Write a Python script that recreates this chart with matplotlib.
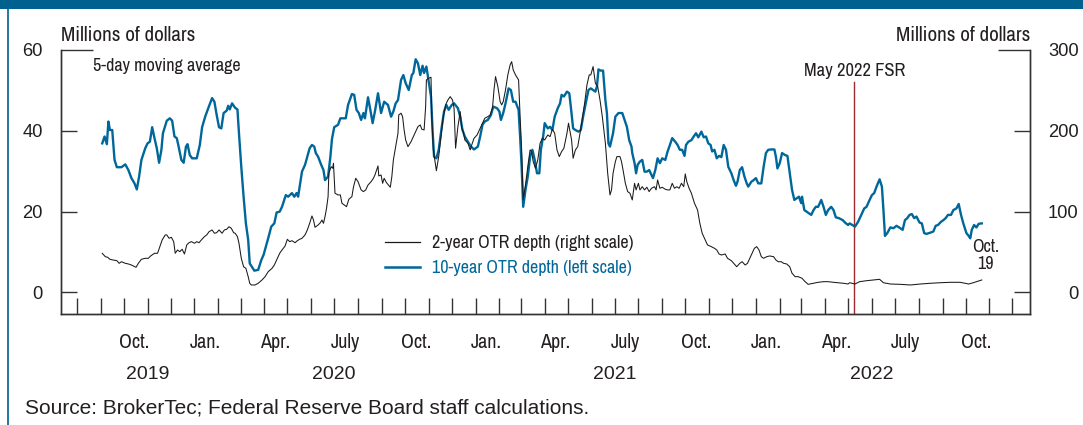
import matplotlib
matplotlib.use("Agg")
import matplotlib.pyplot as plt
import matplotlib.dates as mdates
from matplotlib.lines import Line2D
from matplotlib.patches import Rectangle
import pandas as pd
import numpy as np

# ---------------- data ----------------
start_date = "2019-09-01"          # day offsets below are counted from this date
fsr_date = "2022-05-09"            # May 2022 Financial Stability Report

blue_days = [2, 5, 8, 10, 12, 15, 18, 21, 27, 32, 36, 40, 44, 47, 50, 53, 58, 61, 64, 67, 70, 73, 76, 79, 81,
             86, 90, 93, 96, 99, 101, 105, 108, 111, 113, 116, 119, 125, 129, 132, 136, 140, 144, 145, 148, 151,
             154, 157, 160, 164, 166, 168, 171, 175, 178, 180, 183, 186, 189, 192, 194, 200, 205, 209, 212, 215,
             218, 222, 226, 229, 233, 236, 241, 244, 249, 252, 255, 257, 259, 262, 266, 269, 272, 275, 278, 280,
             283, 287, 290, 292, 296, 299, 301, 304, 309, 312, 316, 319, 322, 327, 330, 333, 336, 339, 342, 344,
             348, 351, 354, 357, 361, 365, 369, 374, 378, 381, 384, 387, 391, 394, 397, 401, 405, 407, 410, 413,
             416, 419, 421, 424, 426, 430, 432, 434, 437, 440, 444, 447, 450, 453, 457, 460, 465, 468, 471, 474,
             478, 482, 486, 491, 494, 497, 500, 504, 508, 511, 516, 519, 521, 524, 527, 531, 534, 537, 540, 544,
             546, 548, 550, 553, 556, 559, 562, 565, 568, 571, 573, 576, 578, 582, 585, 588, 591, 595, 598, 600,
             603, 607, 610, 612, 615, 618, 622, 625, 628, 631, 635, 638, 641, 644, 646, 648, 651, 654, 657, 659,
             661, 663, 667, 670, 674, 679, 682, 685, 688, 691, 692, 695, 697, 699, 702, 705, 708, 711, 714, 717,
             719, 722, 725, 728, 731, 735, 738, 741, 744, 748, 751, 754, 757, 760, 762, 765, 769, 772, 775, 778,
             782, 785, 788, 791, 794, 796, 799, 802, 805, 808, 811, 814, 817, 821, 824, 827, 829, 832, 835, 838,
             841, 843, 847, 850, 853, 856, 860, 863, 866, 869, 873, 877, 879, 881, 884, 887, 891, 894, 897, 900,
             903, 906, 909, 912, 913, 916, 919, 922, 925, 928, 931, 934, 938, 941, 944, 947, 951, 954, 957, 961,
             966, 969, 973, 975, 982, 986, 991, 994, 997, 1001, 1004, 1007, 1010, 1014, 1017, 1019, 1021, 1024,
             1028, 1032, 1036, 1041, 1044, 1047, 1050, 1053, 1056, 1059, 1062, 1066, 1069, 1072, 1075, 1080,
             1084, 1087, 1090, 1094, 1097, 1100, 1103, 1107, 1110, 1114, 1117, 1120, 1123, 1127, 1130, 1132,
             1134, 1137, 1140, 1143, 1147]
blue_vals = [36.9, 38.6, 36.7, 42.3, 40.2, 40.2, 32.8, 31.0, 31.0, 31.7, 30.3, 28.3, 27.0, 25.5, 28.7, 32.8, 35.7,
             36.9, 37.3, 40.9, 38.2, 35.7, 32.1, 35.3, 39.4, 42.5, 43.1, 42.5, 38.6, 38.2, 36.5, 32.8, 32.1, 36.1,
             36.7, 34.0, 33.2, 33.2, 36.5, 40.9, 43.5, 45.6, 47.6, 48.1, 47.2, 43.9, 40.9, 40.6, 44.4, 45.0, 46.2,
             45.3, 46.8, 45.7, 45.3, 39.4, 31.1, 23.7, 17.1, 13.0, 7.2, 5.4, 5.6, 8.0, 9.3, 11.3, 13.4, 16.3, 17.1,
             19.8, 20.0, 21.2, 24.1, 23.7, 24.6, 23.7, 24.6, 23.7, 26.2, 29.9, 31.6, 33.6, 35.7, 36.5, 36.1, 34.5,
             33.6, 31.6, 30.3, 27.8, 28.7, 33.6, 37.9, 40.9, 41.5, 43.1, 43.1, 43.1, 46.4, 49.1, 48.9, 45.2, 44.4,
             42.7, 44.4, 43.1, 48.3, 45.2, 41.9, 44.8, 49.3, 44.4, 47.2, 46.4, 43.5, 44.8, 46.8, 47.6, 52.6, 53.8,
             51.8, 50.1, 53.8, 54.3, 57.7, 56.7, 53.8, 56.1, 54.3, 55.9, 53.4, 48.5, 40.2, 33.6, 33.2, 35.3, 41.0,
             44.8, 46.4, 45.2, 46.4, 46.8, 45.6, 43.5, 40.2, 38.6, 37.3, 36.1, 35.4, 36.1, 38.6, 41.5, 42.3, 42.7,
             43.9, 46.0, 45.6, 44.8, 42.7, 44.4, 46.8, 50.5, 50.1, 47.2, 47.2, 45.2, 38.6, 31.1, 21.2, 25.4, 28.7,
             33.6, 35.3, 32.8, 29.5, 29.5, 35.3, 38.6, 41.9, 40.6, 41.0, 40.2, 43.5, 45.6, 46.8, 48.9, 48.5, 49.7,
             49.3, 46.0, 40.6, 40.2, 39.8, 40.2, 43.5, 46.4, 50.1, 50.5, 50.1, 49.7, 50.9, 55.2, 54.9, 54.9, 47.6,
             44.4, 36.9, 36.1, 39.4, 43.5, 44.4, 44.4, 42.7, 41.0, 37.7, 36.1, 34.5, 32.0, 29.5, 31.6, 32.4, 32.8,
             29.9, 29.9, 30.3, 29.1, 28.3, 30.3, 33.2, 32.0, 33.2, 32.8, 34.9, 36.5, 38.2, 37.3, 36.5, 35.3, 35.3,
             33.8, 36.5, 37.3, 37.7, 38.6, 39.4, 38.4, 39.8, 38.4, 38.6, 36.9, 36.5, 34.9, 35.3, 33.2, 33.8, 33.5,
             36.5, 35.3, 31.1, 29.5, 27.8, 26.4, 27.4, 30.3, 31.0, 28.7, 27.0, 26.2, 27.4, 27.8, 28.3, 27.0, 27.0,
             31.1, 34.5, 35.3, 35.4, 35.4, 33.6, 30.7, 32.0, 34.5, 34.0, 33.8, 29.5, 25.4, 22.9, 23.3, 23.7, 22.1,
             23.7, 20.4, 20.0, 19.6, 19.2, 20.4, 21.2, 21.2, 22.9, 21.2, 19.2, 20.4, 21.2, 20.4, 18.6, 18.4, 17.9,
             17.3, 16.7, 17.1, 16.3, 17.5, 19.6, 20.8, 21.2, 22.9, 24.1, 24.6, 26.2, 28.0, 26.2, 20.4, 14.0, 14.7,
             16.1, 15.9, 16.5, 15.9, 15.5, 17.9, 18.4, 19.2, 19.4, 18.4, 18.8, 17.3, 17.1, 14.7, 14.5, 14.8, 15.1,
             16.5, 16.7, 17.5, 17.9, 18.4, 19.2, 19.2, 20.4, 20.8, 21.9, 19.2, 17.1, 14.7, 14.0, 13.4, 15.5, 16.7,
             16.1, 17.0, 17.1]

black_days = [2, 6, 9, 12, 16, 21, 24, 27, 32, 36, 40, 46, 49, 53, 58, 62, 65, 70, 74, 77, 80, 84, 86, 89, 92, 95,
              97, 100, 103, 106, 109, 112, 115, 118, 122, 125, 128, 131, 135, 138, 141, 145, 148, 151, 154, 158,
              161, 164, 167, 170, 173, 175, 178, 180, 183, 186, 189, 192, 194, 196, 201, 205, 210, 214, 218, 223,
              226, 229, 233, 236, 240, 243, 246, 249, 253, 256, 259, 262, 266, 269, 272, 275, 277, 279, 283, 286,
              288, 290, 292, 294, 296, 297, 300, 302, 303, 305, 309, 312, 314, 317, 320, 323, 327, 329, 332, 335,
              339, 342, 345, 348, 352, 355, 357, 361, 362, 365, 367, 369, 372, 377, 379, 381, 384, 387, 388, 391,
              393, 395, 397, 400, 404, 407, 410, 413, 416, 418, 421, 423, 424, 427, 430, 431, 433, 435, 437, 440,
              443, 446, 449, 452, 455, 458, 460, 462, 465, 468, 470, 472, 474, 478, 481, 483, 486, 490, 492, 495,
              498, 500, 504, 507, 510, 512, 514, 517, 520, 522, 524, 527, 530, 533, 535, 537, 540, 544, 546, 548,
              550, 553, 556, 559, 561, 563, 566, 569, 572, 575, 578, 582, 585, 588, 591, 594, 597, 600, 603, 607,
              609, 611, 613, 615, 618, 621, 624, 627, 630, 633, 636, 638, 641, 644, 647, 650, 653, 657, 660, 663,
              665, 667, 670, 672, 676, 678, 680, 683, 686, 689, 692, 695, 697, 700, 702, 705, 708, 711, 714, 717,
              721, 723, 725, 728, 731, 735, 738, 741, 744, 747, 750, 753, 756, 759, 761, 763, 766, 769, 773, 777,
              780, 783, 787, 790, 795, 799, 802, 805, 808, 813, 816, 821, 824, 828, 832, 835, 839, 842, 845, 848,
              851, 854, 857, 860, 863, 867, 871, 876, 879, 882, 886, 889, 893, 897, 900, 904, 908, 913, 917, 921,
              928, 934, 941, 947, 954, 960, 967, 973, 975, 982, 988, 997, 1006, 1014, 1019, 1028, 1041, 1054, 1067,
              1080, 1093, 1106, 1119, 1130, 1136, 1147]
black_vals = [48.5, 44.3, 43.6, 41.1, 40.2, 39.4, 36.1, 38.1, 36.1, 35.3, 34.0, 31.2, 36.1, 41.1, 42.3, 42.3, 45.2,
              48.5, 48.5, 56.7, 65.0, 71.2, 71.2, 67.1, 68.3, 62.9, 48.5, 52.6, 50.5, 53.5, 47.6, 58.8, 61.6, 62.9,
              60.9, 62.9, 61.6, 65.0, 69.1, 71.2, 75.2, 77.4, 73.3, 74.0, 77.4, 73.3, 77.4, 78.2, 81.4, 79.5, 74.0,
              73.3, 69.1, 60.9, 42.3, 31.9, 29.9, 19.6, 11.4, 9.3, 9.3, 11.4, 15.5, 19.6, 25.7, 29.9, 34.0, 40.2,
              48.5, 52.6, 57.5, 65.8, 62.9, 64.1, 61.6, 64.1, 65.8, 67.1, 71.2, 77.4, 85.6, 94.7, 89.7, 80.7, 83.5,
              86.4, 89.7, 85.6, 93.8, 104.2, 118.6, 147.5, 155.7, 153.7, 159.9, 122.8, 120.7, 120.7, 110.4, 108.3,
              106.2, 115.3, 118.6, 130.2, 141.3, 137.1, 126.9, 124.8, 126.9, 133.0, 137.1, 141.3, 145.4, 156.6,
              144.2, 145.4, 135.1, 141.3, 135.9, 130.2, 143.3, 164.0, 180.4, 197.0, 219.7, 221.8, 217.6, 201.1,
              188.7, 180.4, 186.6, 192.8, 199.0, 205.2, 207.3, 202.0, 201.1, 229.9, 263.0, 265.1, 266.3, 217.6,
              176.4, 164.0, 150.7, 168.1, 192.8, 217.6, 232.1, 238.2, 242.3, 238.2, 227.9, 178.5, 205.2, 223.8,
              203.2, 199.0, 188.7, 184.7, 176.4, 182.5, 190.8, 194.9, 199.0, 205.2, 211.4, 215.6, 217.6, 219.7,
              227.9, 250.6, 267.1, 254.7, 236.1, 232.1, 236.1, 250.6, 269.2, 281.6, 285.6, 275.4, 269.2, 263.0,
              217.6, 176.4, 114.5, 133.0, 155.7, 176.4, 174.3, 161.9, 153.7, 164.0, 184.7, 190.8, 188.7, 194.9,
              192.8, 202.0, 197.0, 176.4, 168.1, 174.3, 178.5, 197.0, 209.4, 199.0, 188.7, 166.1, 176.4, 180.4,
              197.0, 215.6, 234.2, 256.8, 269.2, 269.2, 279.5, 258.9, 254.7, 238.2, 217.6, 184.7, 147.5, 120.7,
              126.9, 147.5, 161.9, 168.1, 168.1, 161.9, 151.6, 135.1, 124.8, 122.8, 114.5, 135.1, 126.9, 135.1,
              126.9, 130.9, 126.9, 130.2, 124.8, 128.9, 130.9, 126.9, 139.2, 128.9, 130.2, 127.7, 126.9, 126.9,
              135.1, 128.9, 130.9, 128.9, 135.1, 130.9, 146.7, 137.1, 128.9, 122.8, 110.4, 102.1, 85.6, 73.3, 65.0,
              58.8, 56.7, 54.7, 52.6, 47.6, 46.4, 47.6, 42.3, 39.4, 36.1, 31.9, 36.1, 38.1, 34.0, 36.1, 42.3, 48.5,
              54.7, 56.7, 52.6, 44.3, 42.3, 44.3, 45.2, 44.3, 40.2, 38.1, 38.1, 36.1, 35.3, 31.9, 23.8, 19.6, 19.6,
              17.6, 13.4, 10.1, 11.4, 12.6, 13.4, 13.4, 12.6, 12.1, 11.4, 10.5, 12.1, 10.5, 13.4, 14.6, 15.5, 16.3,
              12.1, 10.5, 10.1, 9.3, 10.5, 11.4, 12.1, 12.6, 12.6, 10.5, 12.1, 15.5]

month_labels = {1: "Jan.", 4: "Apr.", 7: "July", 10: "Oct."}
year_labels = ["2019", "2020", "2021", "2022"]
year_label_dates = ["2019-11-01", "2020-07-01", "2021-07-01", "2022-06-01"]

left_ticks = [0, 20, 40, 60]
right_ticks = [0, 100, 200, 300]

# ---------------- styling ----------------
plt.rcParams["font.family"] = ["Archivo Narrow", "Liberation Sans", "DejaVu Sans"]
WIDE_FONT = ["Liberation Sans", "DejaVu Sans"]

BLUE = "#00679a"
BAR = "#00618f"
TXT = "#231f20"
RED = "#9e2a2f"

W, H = 1083, 425
fig = plt.figure(figsize=(W / 100, H / 100), dpi=100)
fig.patch.set_facecolor("white")

ax_l, ax_r, ax_t, ax_b = 61, 1030, 50, 314
ax = fig.add_axes([ax_l / W, (H - ax_b) / H, (ax_r - ax_l) / W, (ax_b - ax_t) / H])
ax2 = ax.twinx()

t0 = pd.Timestamp(start_date)
blue_dates = t0 + pd.to_timedelta(blue_days, unit="D")
black_dates = t0 + pd.to_timedelta(black_days, unit="D")

lb, = ax.plot(blue_dates, blue_vals, color=BLUE, lw=1.7, solid_joinstyle="round",
              label="10-year OTR depth (left scale)", zorder=3)
lk, = ax2.plot(black_dates, black_vals, color="#1a1a1a", lw=0.75,
               label="2-year OTR depth (right scale)", zorder=4)

# axis ranges
t0n = mdates.date2num(t0)
ax.set_xlim(t0n - 51.7, t0n + 1209.8)
ax.set_ylim(-5.32, 60)
ax2.set_ylim(-26.6, 300)

# FSR vertical line
ax.axvline(pd.Timestamp(fsr_date), ymin=0, ymax=0.879, color=RED, lw=1.0, zorder=2)
ax.text(pd.Timestamp(fsr_date), 0.9, "May 2022 FSR", transform=ax.get_xaxis_transform(),
        ha="center", va="baseline", fontsize=13.3, color=TXT)

# spines
for a in (ax, ax2):
    a.spines["top"].set_visible(False)
    for s in ("left", "right", "bottom"):
        a.spines[s].set_color("#333333")
        a.spines[s].set_linewidth(1.0)
ax.patch.set_visible(False)

# x ticks: monthly boundaries, labels mid-month
ax.xaxis.set_major_locator(mdates.MonthLocator(bymonthday=1))
ax.xaxis.set_major_formatter(plt.NullFormatter())
ax.tick_params(axis="x", which="major", direction="in", length=11.5, width=1.0, color="#333333")
months = pd.date_range("2019-09-15", "2022-10-15", freq="MS") + pd.Timedelta(days=14)
lab_dates = [d for d in months if d.month in month_labels]
ax.set_xticks(lab_dates, minor=True)
ax.set_xticklabels([month_labels[d.month] for d in lab_dates], minor=True)
ax.tick_params(axis="x", which="minor", length=0, pad=14, labelsize=14.5, labelcolor=TXT)
ax2.tick_params(axis="x", which="both", length=0)

for lab, d in zip(year_labels, year_label_dates):
    ax.text(pd.Timestamp(d), -0.246, lab, transform=ax.get_xaxis_transform(),
            ha="center", va="baseline", fontsize=14, color=TXT, family=WIDE_FONT)

# y ticks
ax.set_yticks(left_ticks)
ax.set_yticklabels([str(v) for v in left_ticks], family=WIDE_FONT)
ax.tick_params(axis="y", direction="in", length=11.5, width=1.0, color="#333333",
               pad=13, labelsize=13.2, labelcolor=TXT)
ax2.set_yticks(right_ticks)
ax2.set_yticklabels([str(v) for v in right_ticks], family=WIDE_FONT)
ax2.tick_params(axis="y", direction="in", length=11.5, width=1.0, color="#333333",
                pad=35, labelsize=13.2, labelcolor=TXT)
for lab in ax2.get_yticklabels():
    lab.set_horizontalalignment("right")
# longer cap ticks at the top of each scale
ax.yaxis.get_major_ticks()[-1].tick1line.set_markersize(23)
ax2.yaxis.get_major_ticks()[-1].tick2line.set_markersize(23)

# unit labels
fig.text(ax_l / W, 1 - 40.7 / H, "Millions of dollars", ha="left", va="baseline", fontsize=15.2, color=TXT)
fig.text(ax_r / W, 1 - 40.7 / H, "Millions of dollars", ha="right", va="baseline", fontsize=15.2, color=TXT)
fig.text(93 / W, 1 - 70.7 / H, "5-day moving average", ha="left", va="baseline", fontsize=13, color=TXT)

# end-date annotation
ax.annotate("Oct.\n19", xy=(blue_dates[-1], blue_vals[-1]), xytext=(2.5, -11), textcoords="offset points",
            ha="center", va="top", fontsize=13, color=TXT, linespacing=1.1)

# legend
leg = ax2.legend(handles=[lk, lb], loc="upper left", bbox_to_anchor=(0.334, 0.298),
                 frameon=False, fontsize=13, handlelength=1.95, handletextpad=0.67,
                 borderpad=0, borderaxespad=0, labelspacing=0.5)
leg.get_texts()[0].set_color(TXT)
leg.get_texts()[1].set_color(BLUE)
leg.legend_handles[0].set_linewidth(0.9)
leg.legend_handles[1].set_linewidth(1.8)

# frame decoration: top bar and left border
fig.add_artist(Rectangle((0, 1 - 9 / H), 1, 9 / H, transform=fig.transFigure, color=BAR, lw=0))
fig.add_artist(Line2D([7.5 / W, 7.5 / W], [0, 1 - 9 / H], transform=fig.transFigure, color=BAR, lw=1.2))

# source
fig.text(25 / W, 1 - 414 / H, "Source: BrokerTec; Federal Reserve Board staff calculations.",
         ha="left", va="baseline", fontsize=15.05, color=TXT, family=WIDE_FONT)

fig.savefig("out.png", dpi=100)
